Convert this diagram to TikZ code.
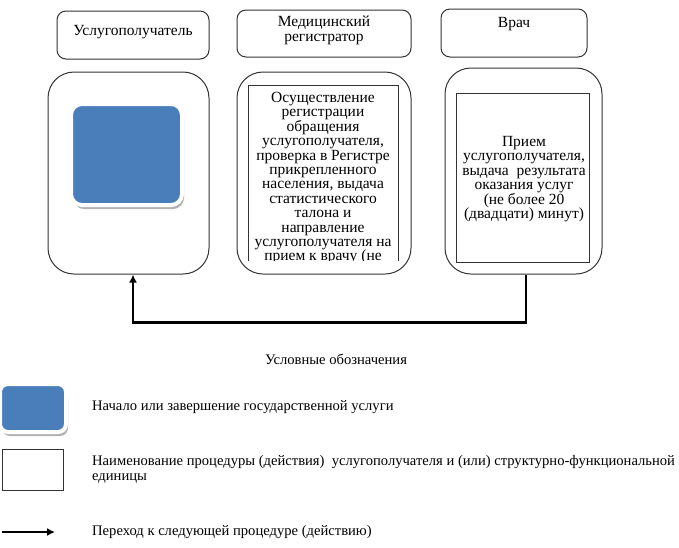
\documentclass[tikz,border=0pt]{standalone}
\usepackage{fontspec}
\setmainfont{Liberation Serif}
\usetikzlibrary{positioning,shadows,arrows.meta}
\definecolor{startblue}{HTML}{4A7EBB}
\definecolor{boxline}{HTML}{333333}
\newcommand\lanefont{\fontsize{15.5}{14.4}\selectfont\lineskiplimit=-20pt\relax}
\newcommand\legendfont{\fontsize{14.6}{15}\selectfont\lineskiplimit=-20pt\relax}
\tikzset{
	head/.style={draw=boxline,line width=1pt,rounded corners=9pt},
	lane/.style={draw=boxline,line width=1pt,rounded corners=26pt},
	proc/.style={draw=boxline,line width=1pt},
	startbox/.style={fill=startblue,draw=white,line width=4pt,rounded corners=11pt,
		drop shadow={shadow xshift=2pt,shadow yshift=-4pt,fill=black!30,opacity=1}},
	txt/.style={align=center,inner sep=0pt,font=\lanefont},
	lgtxt/.style={inner sep=0pt,font=\legendfont},
	flow/.style={line width=2.2pt,-{Latex[length=8pt,width=8pt]}}
}
\begin{document}
\begin{tikzpicture}[x=1pt,y=-1pt]
	\useasboundingbox (0,0) rectangle (679,547);
	% headers
	\node[head,minimum width=152pt,minimum height=48pt] (hd1) at (133,35) {};
	\node[txt] (hd1txt) at (133,32) {Услугополучатель};
	\node[head,minimum width=174pt,minimum height=47pt] (hd2) at (324,33.5) {};
	\node[txt] (hd2txt) at (324,30.5) {Медицинский\\регистратор};
	\node[head,minimum width=146pt,minimum height=48pt] (hd3) at (514,33) {};
	\node[txt] (hd3txt) at (514,24) {Врач};

	% lanes
	\node[lane,minimum width=161pt,minimum height=202pt] (lane1) at (128.5,173) {};
	\node[lane,minimum width=174pt,minimum height=202pt] (lane2) at (324,173) {};
	\node[lane,minimum width=157pt,minimum height=206pt] (lane3) at (523.5,171) {};

	\node[startbox,minimum width=111pt,minimum height=101pt] (start1) at (126.5,154.5) {};

	\begin{scope}
		\clip (240,80) rectangle (405,260);
		\node[proc,minimum width=150pt,minimum height=200pt,anchor=north] (proc2) at (323,85) {};
		\node[txt,anchor=north] (proc2txt) at (323,92) {Осуществление\\регистрации\\обращения\\услугополучателя,\\проверка в Регистре\\прикрепленного\\населения, выдача\\статистического\\талона и\\направление\\услугополучателя на\\прием к врачу (не};
	\end{scope}

	\node[proc,minimum width=133pt,minimum height=169pt] (proc3) at (522.5,177.5) {};
	\node[txt] (proc3txt) at (524,179) {Прием\\услугополучателя,\\выдача\ \ результата\\оказания услуг\\(не более 20\\(двадцати) минут)};

	\draw[flow] ([xshift=2.5pt]lane3.south) -- ++(0,48) -| ([xshift=4.5pt]lane1.south);

	% legend
	\node[lgtxt] (lgtitle) at (336,359) {Условные обозначения};
	\node[startbox,rounded corners=8pt,minimum width=66pt,minimum height=48pt] (lgstart) at (33,408) {};
	\node[lgtxt,anchor=west] (lgstarttxt) at (92,407) {Начало или завершение государственной услуги};
	\node[proc,minimum width=61pt,minimum height=41pt] (lgproc) at (32.5,469.5) {};
	\node[lgtxt,anchor=west,align=left] (lgproctxt) at (92,469.5) {Наименование процедуры (действия)\ \ услугополучателя и (или) структурно-функциональной\\единицы};
	\coordinate (lgflowa) at (2,532);
	\coordinate (lgflowb) at (55,532);
	\draw[flow] (lgflowa) -- (lgflowb);
	\node[lgtxt,anchor=west] (lgflowtxt) at (92,532) {Переход к следующей процедуре (действию)};
\end{tikzpicture}
\end{document}
